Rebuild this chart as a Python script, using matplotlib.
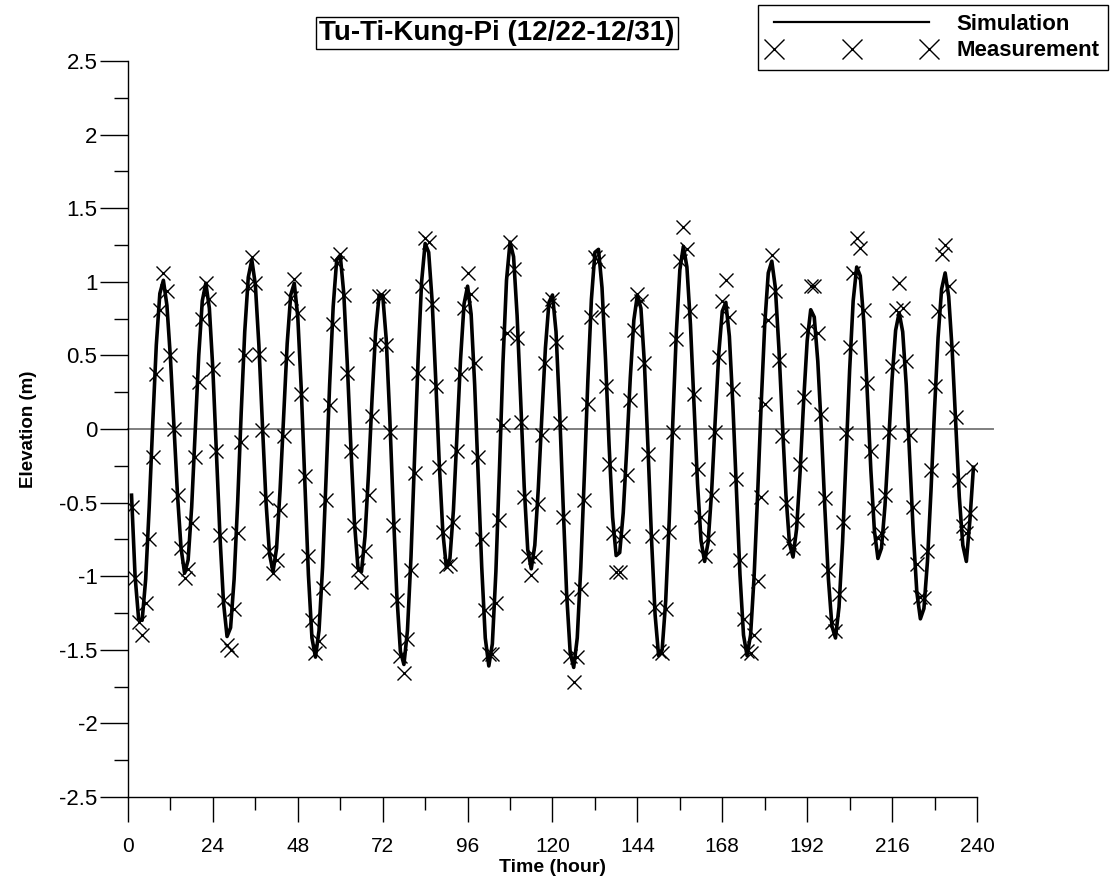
import matplotlib
matplotlib.use("Agg")
import matplotlib.pyplot as plt
from matplotlib.lines import Line2D
from matplotlib.ticker import MultipleLocator, FormatStrFormatter

plt.rcParams['font.family'] = ['Liberation Sans', 'DejaVu Sans']
plt.rcParams['axes.unicode_minus'] = False

#%% Tide elevation at Tu-Ti-Kung-Pi, hourly, 12/22-12/31
hours = list(range(1, 240))

simulation = [
    -0.45, -1.00, -1.29, -1.30, -1.02, -0.53, 0.04, 0.57, 0.92, 1.01, 0.84, 0.48,
    0.02, -0.45, -0.81, -0.98, -0.89, -0.53, -0.02, 0.50, 0.87, 0.99, 0.82, 0.40,
    -0.16, -0.73, -1.18, -1.41, -1.35, -1.02, -0.50, 0.11, 0.66, 1.03, 1.15, 0.98,
    0.57, 0.03, -0.49, -0.85, -0.97, -0.81, -0.41, 0.09, 0.58, 0.91, 0.99, 0.76,
    0.26, -0.37, -0.99, -1.42, -1.55, -1.37, -0.94, -0.33, 0.30, 0.83, 1.15, 1.18,
    0.92, 0.44, -0.12, -0.63, -0.94, -0.97, -0.73, -0.30, 0.21, 0.66, 0.91, 0.91,
    0.61, 0.08, -0.55, -1.13, -1.51, -1.60, -1.37, -0.87, -0.20, 0.47, 1.00, 1.26,
    1.20, 0.86, 0.33, -0.24, -0.70, -0.94, -0.88, -0.55, -0.04, 0.47, 0.85, 0.97,
    0.78, 0.30, -0.32, -0.94, -1.42, -1.61, -1.46, -0.97, -0.28, 0.45, 1.01, 1.27,
    1.17, 0.77, 0.20, -0.39, -0.82, -0.95, -0.79, -0.40, 0.09, 0.55, 0.86, 0.91,
    0.66, 0.13, -0.51, -1.12, -1.52, -1.62, -1.42, -0.94, -0.32, 0.33, 0.88, 1.20,
    1.22, 0.96, 0.47, -0.11, -0.60, -0.86, -0.84, -0.57, -0.13, 0.35, 0.74, 0.91,
    0.82, 0.44, -0.13, -0.75, -1.26, -1.54, -1.50, -1.17, -0.62, 0.04, 0.65, 1.08,
    1.24, 1.10, 0.71, 0.17, -0.37, -0.76, -0.90, -0.77, -0.42, 0.06, 0.51, 0.80,
    0.86, 0.63, 0.16, -0.42, -0.99, -1.40, -1.54, -1.40, -1.00, -0.44, 0.17, 0.71,
    1.06, 1.14, 0.96, 0.55, 0.04, -0.45, -0.78, -0.87, -0.68, -0.29, 0.19, 0.60,
    0.81, 0.76, 0.46, 0.00, -0.54, -1.02, -1.34, -1.42, -1.21, -0.77, -0.19, 0.40,
    0.87, 1.10, 1.04, 0.73, 0.24, -0.28, -0.69, -0.88, -0.81, -0.52, -0.10, 0.34,
    0.67, 0.79, 0.66, 0.30, -0.20, -0.71, -1.11, -1.29, -1.22, -0.90, -0.42, 0.13,
    0.62, 0.95, 1.06, 0.90, 0.53, 0.03, -0.46, -0.79, -0.90, -0.62, -0.26,
]

measurement = [
    -0.53, -1.01, -1.31, -1.40, -1.18, -0.75, -0.19, 0.37, 0.81, 1.06, 0.94, 0.50,
    0.00, -0.45, -0.81, -1.01, -0.95, -0.64, -0.19, 0.32, 0.75, 0.99, 0.88, 0.41,
    -0.15, -0.72, -1.16, -1.47, -1.50, -1.22, -0.71, -0.09, 0.50, 0.97, 1.17, 0.99,
    0.51, -0.01, -0.47, -0.83, -0.98, -0.89, -0.55, -0.05, 0.48, 0.89, 1.02, 0.79,
    0.24, -0.32, -0.86, -1.30, -1.52, -1.44, -1.08, -0.48, 0.16, 0.71, 1.13, 1.19,
    0.91, 0.38, -0.15, -0.65, -0.96, -1.04, -0.83, -0.45, 0.09, 0.58, 0.90, 0.90,
    0.57, -0.02, -0.65, -1.16, -1.54, -1.66, -1.43, -0.96, -0.30, 0.38, 0.97, 1.30,
    1.27, 0.85, 0.29, -0.26, -0.70, -0.93, -0.92, -0.63, -0.15, 0.37, 0.82, 1.06,
    0.92, 0.45, -0.19, -0.75, -1.23, -1.53, -1.53, -1.18, -0.62, 0.03, 0.65, 1.27,
    1.09, 0.62, 0.05, -0.46, -0.86, -0.99, -0.87, -0.51, -0.04, 0.45, 0.84, 0.88,
    0.59, 0.04, -0.60, -1.14, -1.54, -1.72, -1.55, -1.09, -0.48, 0.17, 0.76, 1.17,
    1.14, 0.81, 0.29, -0.24, -0.71, -0.97, -0.97, -0.73, -0.31, 0.20, 0.67, 0.92,
    0.87, 0.45, -0.17, -0.73, -1.21, -1.51, -1.52, -1.22, -0.70, -0.02, 0.61, 1.14,
    1.37, 1.22, 0.80, 0.24, -0.27, -0.60, -0.86, -0.74, -0.45, -0.02, 0.49, 0.87,
    1.01, 0.76, 0.27, -0.34, -0.89, -1.29, -1.51, -1.52, -1.40, -1.03, -0.46, 0.17,
    0.74, 1.18, 0.94, 0.47, -0.05, -0.50, -0.77, -0.81, -0.62, -0.24, 0.22, 0.67,
    0.97, 0.97, 0.65, 0.10, -0.47, -0.96, -1.31, -1.37, -1.12, -0.63, -0.03, 0.56,
    1.06, 1.30, 1.23, 0.81, 0.31, -0.15, -0.54, -0.74, -0.71, -0.45, -0.02, 0.43,
    0.81, 0.99, 0.82, 0.46, -0.04, -0.53, -0.92, -1.14, -1.15, -0.83, -0.28, 0.29,
    0.80, 1.19, 1.25, 0.97, 0.55, 0.08, -0.35, -0.66, -0.71, -0.57, -0.26,
]

title = 'Tu-Ti-Kung-Pi (12/22-12/31)'

#%% Plot
fig = plt.figure(figsize=(11.14, 8.86), dpi=100)
ax = fig.add_axes([0.1149, 0.1005, 0.7621, 0.8307])

ax.plot([0, 244.5], [0, 0], color='#7f7f7f', lw=1.4, clip_on=False, zorder=1)
ax.plot(hours, simulation, color='black', lw=2.6, zorder=3)
ax.plot(hours, measurement, ls='none', marker='x', ms=10.5, mew=1.0,
        color='black', zorder=4)

ax.set_xlim(0, 240)
ax.set_ylim(-2.5, 2.5)
ax.xaxis.set_major_locator(MultipleLocator(24))
ax.xaxis.set_minor_locator(MultipleLocator(12))
ax.yaxis.set_major_locator(MultipleLocator(0.5))
ax.yaxis.set_minor_locator(MultipleLocator(0.25))
ax.yaxis.set_major_formatter(FormatStrFormatter('%g'))

for side in ['top', 'right']:
    ax.spines[side].set_visible(False)
for side in ['left', 'bottom']:
    ax.spines[side].set_linewidth(1.0)

ax.tick_params(axis='x', which='major', direction='out', length=18, width=1,
               pad=11, labelsize=15)
ax.tick_params(axis='x', which='minor', direction='out', length=9, width=1)
ax.tick_params(axis='y', which='major', direction='out', length=20, width=1,
               pad=2, labelsize=16)
ax.tick_params(axis='y', which='minor', direction='out', length=10, width=1)

ax.set_xlabel('Time (hour)', fontsize=14, fontweight='bold', labelpad=2)
ax.set_ylabel('Elevation (m)', fontsize=13.5, fontweight='bold', labelpad=16)

fig.text(497 / 1114, 1 - 33 / 886, title, ha='center', va='center',
         fontsize=20, fontweight='bold',
         bbox=dict(boxstyle='square,pad=0.12', fc='white', ec='black', lw=1.0))

handles = [Line2D([], [], color='black', lw=1.6),
           Line2D([], [], ls='none', marker='x', ms=14, mew=1.0, color='black')]
leg = fig.legend(handles, ['Simulation', 'Measurement'], loc='upper right',
                 bbox_to_anchor=(1108 / 1114, 1 - 5 / 886), numpoints=3,
                 handlelength=7.6, handletextpad=0.9, borderpad=0.4,
                 borderaxespad=0, labelspacing=0.25, fancybox=False,
                 framealpha=1, edgecolor='black',
                 prop={'weight': 'bold', 'size': 16})
leg.get_frame().set_linewidth(1.0)

fig.savefig('out.png', dpi=100)
